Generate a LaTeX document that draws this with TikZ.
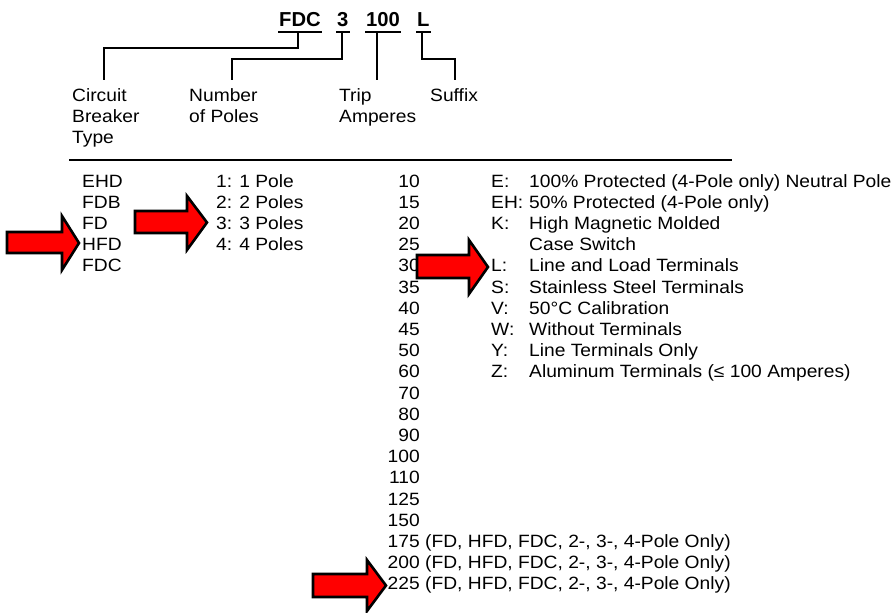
\documentclass[tikz,border=0pt]{standalone}
\usepackage{fontspec}
\setmainfont{Liberation Sans}[FakeStretch=1.08]
\newfontfamily\hdrfont{Liberation Sans}[BoldFont={* Bold}]
\begin{document}
\begin{tikzpicture}[x=1pt,y=-1pt,
  txt/.style={inner sep=0pt, anchor=base west, font=\fontsize{17.8}{21}\selectfont},
  num/.style={txt, anchor=base east},
  hdr/.style={txt, font=\hdrfont\fontsize{20.2}{24}\selectfont\bfseries},
  conn/.style={line width=1.5pt},
  ul/.style={line width=1.6pt},
  rule/.style={line width=1.6pt, draw=black},
  redarrow/.style={fill=red, draw=black, line width=2.6pt, line join=miter}]
\useasboundingbox (0,0) rectangle (895,613);

% header
\node[hdr] (fdc) at (279,27) {FDC};
\node[hdr] (three) at (337,27) {3};
\node[hdr] (hundred) at (366,27) {100};
\node[hdr] (ell) at (417,27) {L};
\foreach \n in {fdc,three,hundred,ell}
  \draw[ul] ([xshift=-1pt,yshift=-5pt]\n.base west) -- ([xshift=1pt,yshift=-5pt]\n.base east);

% connector coordinates
\coordinate (fdcU) at (298,32);
\coordinate (threeU) at (342,32);
\coordinate (hundredU) at (377,32);
\coordinate (ellU) at (422,32);
\coordinate (cbtT) at (104,80);
\coordinate (polT) at (232,80);
\coordinate (tripT) at (377,80);
\coordinate (sufT) at (455,80);
\draw[conn] (fdcU) -- ++(0,16) -| (cbtT);
\draw[conn] (threeU) -- ++(0,27) -| (polT);
\draw[conn] (hundredU) -- (tripT);
\draw[conn] (ellU) -- ++(0,27) -| (sufT);

% column labels
\node[txt] (lc1) at (72,101) {Circuit};
\node[txt] (lc2) at (72,122) {Breaker};
\node[txt] (lc3) at (72,143) {Type};
\node[txt] (lp1) at (189,101) {Number};
\node[txt] (lp2) at (189,122) {of Poles};
\node[txt] (lt1) at (339,101) {Trip};
\node[txt] (lt2) at (339,122) {Amperes};
\node[txt] (ls1) at (430,101) {Suffix};

% rule
\coordinate (ruleL) at (69,160);
\coordinate (ruleR) at (732,160);
\draw[rule] (ruleL) -- (ruleR);

% breaker types
\foreach \t [count=\i from 0] in {EHD,FDB,FD,HFD,FDC}
  \node[txt] (ty\i) at (82,187+21.2*\i) {\t};
% poles
\foreach \t [count=\i from 0] in {1: 1 Pole,2: 2 Poles,3: 3 Poles,4: 4 Poles}
  \node[txt] (po\i) at (216,187+21.2*\i) {\t};
% trip amperes
\foreach \t [count=\i from 0] in {10,15,20,25,30,35,40,45,50,60,70,80,90,100,110,125,150,175,200,225}
  \node[num] (am\i) at (420,187+21.2*\i) {\t};
\foreach \i in {17,18,19}
  \node[txt] (amn\i) at ([xshift=5pt]am\i.base east) {(FD, HFD, FDC, 2-, 3-, 4-Pole Only)};
% suffix letters
\foreach \t/\i in {E:/0,EH:/1,K:/2,L:/4,S:/5,V:/6,W:/7,Y:/8,Z:/9}
  \node[txt] (sl\i) at (491,187+21.2*\i) {\t};
% suffix descriptions
\foreach \t [count=\i from 0] in {100\% Protected (4-Pole only) Neutral Pole,50\% Protected (4-Pole only),High Magnetic Molded,Case Switch,Line and Load Terminals,Stainless Steel Terminals,50°C Calibration,Without Terminals,Line Terminals Only,Aluminum Terminals (≤ 100 Amperes)}
  \node[txt] (sd\i) at (529,187+21.2*\i) {\t};

% red arrows
\draw[redarrow] (7,232) -- (62,232) -- (62,216) -- (79,243) -- (62,270) -- (62,253) -- (7,253) -- cycle;
\draw[redarrow] (135,211) -- (187,211) -- (187,196) -- (207,222.5) -- (187,250) -- (187,233) -- (135,233) -- cycle;
\draw[redarrow] (417,255) -- (469,255) -- (469,240) -- (488,267) -- (469,294) -- (469,278) -- (417,278) -- cycle;
\draw[redarrow] (313,574) -- (367,574) -- (367,560) -- (386,585.5) -- (367,611) -- (367,597) -- (313,597) -- cycle;
\end{tikzpicture}
\end{document}
